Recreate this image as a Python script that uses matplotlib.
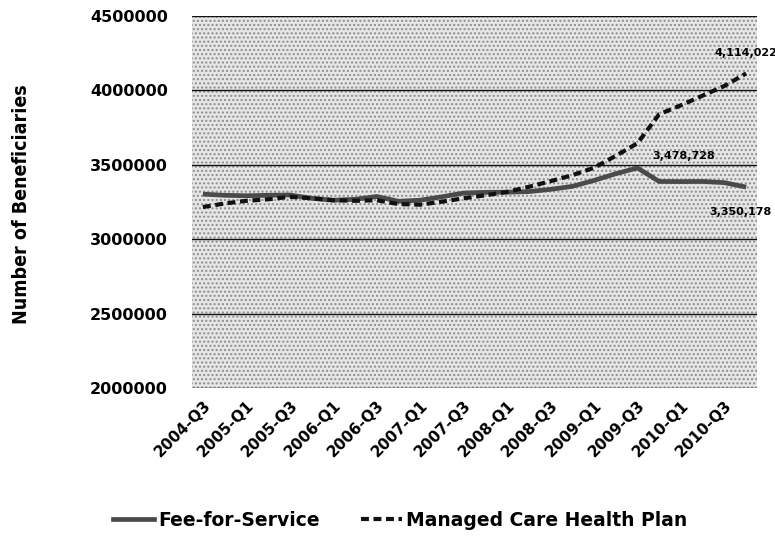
import matplotlib
matplotlib.use("Agg")
import matplotlib.pyplot as plt
from matplotlib.patches import Rectangle
from matplotlib.lines import Line2D

quarters = ["2004-Q3", "2004-Q4",
            "2005-Q1", "2005-Q2", "2005-Q3", "2005-Q4",
            "2006-Q1", "2006-Q2", "2006-Q3", "2006-Q4",
            "2007-Q1", "2007-Q2", "2007-Q3", "2007-Q4",
            "2008-Q1", "2008-Q2", "2008-Q3", "2008-Q4",
            "2009-Q1", "2009-Q2", "2009-Q3", "2009-Q4",
            "2010-Q1", "2010-Q2", "2010-Q3", "2010-Q4"]

fee_for_service = [3303000, 3295000, 3292000, 3295000, 3297000, 3275000,
                   3262000, 3268000, 3287000, 3255000, 3262000, 3285000,
                   3310000, 3315000, 3316000, 3320000, 3335000, 3355000,
                   3395000, 3440000, 3478728, 3388000, 3387000, 3388000,
                   3380000, 3350178]

managed_care = [3216000, 3240000, 3258000, 3268000, 3285000, 3275000,
                3262000, 3258000, 3262000, 3236000, 3232000, 3252000,
                3275000, 3295000, 3318000, 3352000, 3390000, 3430000,
                3480000, 3560000, 3645000, 3840000, 3900000, 3965000,
                4030000, 4114022]

y_ticks = [2000000, 2500000, 3000000, 3500000, 4000000, 4500000]

W, H = 775, 536
PX = 72 / 100  # points per pixel
fig = plt.figure(figsize=(W / 100, H / 100), dpi=100)
ax = fig.add_axes([192 / W, 1 - 388 / H, (757 - 192) / W, (388 - 16) / H])

# stippled background
ax.set_facecolor("#e6e6e6")
bg = Rectangle((0, 0), 1, 1, transform=ax.transAxes, facecolor="none",
               edgecolor="#8c8c8c", hatch="....", linewidth=0, zorder=0)
ax.add_patch(bg)

x = list(range(len(quarters)))
ffs_color = "#4a4a4a"
mc_color = "#111111"
ax.plot(x, fee_for_service, color=ffs_color, lw=3.4, solid_capstyle="butt",
        solid_joinstyle="round", zorder=3)
ax.plot(x, managed_care, color=mc_color, lw=3.0, dashes=(1.9, 1.1),
        dash_capstyle="butt", zorder=4)

ax.set_xlim(-0.5, len(quarters) - 0.5)
ax.set_ylim(y_ticks[0], y_ticks[-1])
ax.set_yticks(y_ticks)
ax.set_yticklabels([str(v) for v in y_ticks])
ax.yaxis.grid(True, color="#111111", lw=1.0)
ax.set_axisbelow(True)
for s in ax.spines.values():
    s.set_visible(False)
ax.tick_params(axis="y", length=0, pad=24 * PX)
ax.tick_params(axis="x", length=0, pad=10 * PX)
for lbl in ax.get_yticklabels():
    lbl.set_fontfamily("DejaVu Sans")
    lbl.set_fontweight("bold")
    lbl.set_fontsize(11.5)

ax.set_xticks(x[::2])
ax.set_xticklabels(quarters[::2], rotation=45, ha="right",
                   rotation_mode="anchor", fontsize=11, fontweight="bold")

fig.text(22 / W, 1 - 204 / H, "Number of Beneficiaries", rotation=90,
         ha="center", va="center", fontsize=14, fontweight="bold",
         fontstretch="condensed",
         family=["Liberation Sans Narrow", "DejaVu Sans"])

# data labels
i_peak = fee_for_service.index(max(fee_for_service))
ax.annotate(f"{fee_for_service[i_peak]:,}", (x[i_peak], fee_for_service[i_peak]),
            xytext=(11, 5), textcoords="offset points", ha="left", va="bottom",
            fontsize=8, fontweight="bold")
ax.annotate(f"{fee_for_service[-1]:,}", (x[-1], fee_for_service[-1]),
            xytext=(-4, -14), textcoords="offset points", ha="center", va="top",
            fontsize=8, fontweight="bold", annotation_clip=False)
ax.annotate(f"{managed_care[-1]:,}", (x[-1], managed_care[-1]),
            xytext=(0, 11), textcoords="offset points", ha="center", va="bottom",
            fontsize=8, fontweight="bold", annotation_clip=False)

handles = [Line2D([], [], color=ffs_color, lw=3.4),
           Line2D([], [], color=mc_color, lw=3.0, dashes=(1.9, 1.1))]
fig.legend(handles, ["Fee-for-Service", "Managed Care Health Plan"],
           loc="center", bbox_to_anchor=(400 / W, 1 - 520 / H), ncol=2,
           frameon=False, prop={"weight": "bold", "size": 13.5},
           handlelength=2.2, handletextpad=0.2, columnspacing=2.2)

fig.savefig("out.png", dpi=100)
